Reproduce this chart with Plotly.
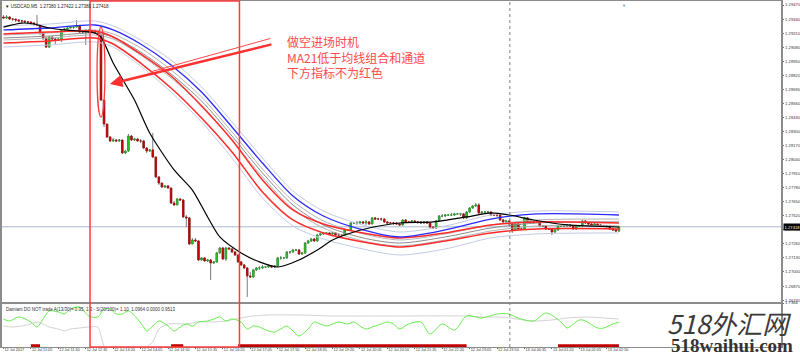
import plotly.graph_objects as go

# ---------------- price data (USDCAD M5) ----------------
closes = [
    1.29350, 1.29359, 1.29340, 1.29340, 1.29331, 1.29322, 1.29322, 1.29313, 1.29313, 1.29303,
    1.29294, 1.29285, 1.29211, 1.29165, 1.29081, 1.29174, 1.29155, 1.29146, 1.29155, 1.29239,
    1.29248, 1.29257, 1.29266, 1.29266, 1.29276, 1.29220, 1.29220, 1.29239, 1.29220, 1.29229,
    1.29211, 1.29192, 1.28591, 1.28369, 1.28249, 1.28212, 1.28221, 1.28212, 1.28221, 1.28101,
    1.28119, 1.28258, 1.28221, 1.28230, 1.28212, 1.28212, 1.28147, 1.28119, 1.28129, 1.28064,
    1.27879, 1.27823, 1.27786, 1.27796, 1.27777, 1.27638, 1.27620, 1.27675, 1.27666, 1.27509,
    1.27500, 1.27259, 1.27296, 1.27287, 1.27111, 1.27130, 1.27102, 1.27111, 1.27083, 1.27093,
    1.27176, 1.27222, 1.27120, 1.27222, 1.27213, 1.27185, 1.27157, 1.27093, 1.27065, 1.27037,
    1.26963, 1.26954, 1.27019, 1.27037, 1.27037, 1.27046, 1.27046, 1.27056, 1.27046, 1.27056,
    1.27130, 1.27130, 1.27130, 1.27185, 1.27185, 1.27204, 1.27204, 1.27167, 1.27176, 1.27268,
    1.27287, 1.27305, 1.27287, 1.27342, 1.27352, 1.27361, 1.27361, 1.27352, 1.27361, 1.27342,
    1.27342, 1.27342, 1.27389, 1.27389, 1.27453, 1.27453, 1.27453, 1.27463, 1.27453, 1.27463,
    1.27444, 1.27500, 1.27490, 1.27490, 1.27490, 1.27463, 1.27453, 1.27453, 1.27453, 1.27444,
    1.27435, 1.27481, 1.27463, 1.27463, 1.27472, 1.27463, 1.27463, 1.27453, 1.27463, 1.27453,
    1.27416, 1.27407, 1.27472, 1.27518, 1.27518, 1.27527, 1.27527, 1.27527, 1.27537, 1.27537,
    1.27537, 1.27500, 1.27555, 1.27592, 1.27611, 1.27620, 1.27546, 1.27555, 1.27555, 1.27555,
    1.27527, 1.27527, 1.27527, 1.27481, 1.27463, 1.27472, 1.27444, 1.27389, 1.27444, 1.27398,
    1.27398, 1.27500, 1.27463, 1.27463, 1.27463, 1.27463, 1.27426, 1.27426, 1.27398, 1.27398,
    1.27370, 1.27389, 1.27426, 1.27426, 1.27426, 1.27435, 1.27426, 1.27398, 1.27426, 1.27426,
    1.27472, 1.27453, 1.27444, 1.27435, 1.27444, 1.27435, 1.27426, 1.27426, 1.27426, 1.27398,
    1.27389, 1.27379, 1.27418]

highs = [
    1.29377, 1.29377, 1.29368, 1.29350, 1.29340, 1.29340, 1.29331, 1.29322, 1.29322, 1.29313,
    1.29313, 1.29377, 1.29285, 1.29211, 1.29165, 1.29183, 1.29174, 1.29165, 1.29165, 1.29248,
    1.29257, 1.29276, 1.29276, 1.29276, 1.29331, 1.29276, 1.29239, 1.29248, 1.29248, 1.29239,
    1.29239, 1.29220, 1.29192, 1.28591, 1.28369, 1.28258, 1.28240, 1.28230, 1.28230, 1.28221,
    1.28129, 1.28277, 1.28267, 1.28240, 1.28240, 1.28230, 1.28221, 1.28156, 1.28138, 1.28286,
    1.28064, 1.27888, 1.27823, 1.27805, 1.27805, 1.27777, 1.27657, 1.27685, 1.27685, 1.27675,
    1.27527, 1.27509, 1.27315, 1.27315, 1.27296, 1.27139, 1.27139, 1.27120, 1.27120, 1.27102,
    1.27185, 1.27231, 1.27231, 1.27231, 1.27231, 1.27222, 1.27194, 1.27167, 1.27102, 1.27074,
    1.27046, 1.27000, 1.27028, 1.27046, 1.27056, 1.27065, 1.27056, 1.27065, 1.27065, 1.27065,
    1.27139, 1.27148, 1.27139, 1.27194, 1.27194, 1.27213, 1.27213, 1.27213, 1.27185, 1.27278,
    1.27296, 1.27315, 1.27315, 1.27352, 1.27361, 1.27370, 1.27370, 1.27370, 1.27370, 1.27370,
    1.27361, 1.27352, 1.27398, 1.27398, 1.27463, 1.27463, 1.27472, 1.27472, 1.27472, 1.27481,
    1.27472, 1.27509, 1.27509, 1.27500, 1.27500, 1.27500, 1.27472, 1.27463, 1.27463, 1.27463,
    1.27453, 1.27490, 1.27490, 1.27472, 1.27481, 1.27481, 1.27472, 1.27472, 1.27472, 1.27472,
    1.27463, 1.27426, 1.27481, 1.27527, 1.27537, 1.27537, 1.27537, 1.27546, 1.27546, 1.27546,
    1.27546, 1.27546, 1.27564, 1.27601, 1.27620, 1.27638, 1.27638, 1.27564, 1.27564, 1.27564,
    1.27564, 1.27537, 1.27537, 1.27537, 1.27490, 1.27481, 1.27481, 1.27453, 1.27453, 1.27453,
    1.27407, 1.27509, 1.27509, 1.27472, 1.27472, 1.27472, 1.27472, 1.27435, 1.27435, 1.27407,
    1.27407, 1.27398, 1.27435, 1.27435, 1.27435, 1.27444, 1.27444, 1.27435, 1.27435, 1.27435,
    1.27481, 1.27481, 1.27453, 1.27453, 1.27453, 1.27444, 1.27444, 1.27435, 1.27435, 1.27435,
    1.27407, 1.27398, 1.27426]

lows = [
    1.29340, 1.29340, 1.29331, 1.29322, 1.29313, 1.29313, 1.29303, 1.29303, 1.29294, 1.29285,
    1.29276, 1.29276, 1.29192, 1.29146, 1.29072, 1.29072, 1.29137, 1.29109, 1.29137, 1.29128,
    1.29229, 1.29229, 1.29257, 1.29248, 1.29266, 1.29211, 1.29202, 1.29100, 1.29211, 1.29211,
    1.29202, 1.29183, 1.28582, 1.28341, 1.28240, 1.28203, 1.28203, 1.28203, 1.28203, 1.28092,
    1.28092, 1.28110, 1.28212, 1.28212, 1.28203, 1.28193, 1.28138, 1.28101, 1.28110, 1.28055,
    1.27870, 1.27805, 1.27777, 1.27777, 1.27768, 1.27629, 1.27611, 1.27620, 1.27657, 1.27500,
    1.27416, 1.27250, 1.27259, 1.27278, 1.27102, 1.27102, 1.27093, 1.27093, 1.26926, 1.27074,
    1.27083, 1.27167, 1.27111, 1.27102, 1.27204, 1.27176, 1.27148, 1.27083, 1.27056, 1.27028,
    1.26769, 1.26945, 1.26945, 1.27009, 1.27019, 1.27028, 1.27037, 1.27037, 1.27037, 1.27037,
    1.27046, 1.27111, 1.27120, 1.27120, 1.27167, 1.27176, 1.27194, 1.27157, 1.27157, 1.27167,
    1.27259, 1.27278, 1.27278, 1.27278, 1.27333, 1.27342, 1.27352, 1.27342, 1.27342, 1.27333,
    1.27333, 1.27333, 1.27333, 1.27379, 1.27379, 1.27444, 1.27435, 1.27444, 1.27444, 1.27435,
    1.27435, 1.27444, 1.27481, 1.27481, 1.27472, 1.27453, 1.27444, 1.27444, 1.27435, 1.27435,
    1.27426, 1.27426, 1.27453, 1.27453, 1.27453, 1.27453, 1.27444, 1.27444, 1.27444, 1.27444,
    1.27407, 1.27398, 1.27398, 1.27463, 1.27509, 1.27509, 1.27518, 1.27518, 1.27518, 1.27527,
    1.27518, 1.27490, 1.27490, 1.27546, 1.27583, 1.27601, 1.27537, 1.27537, 1.27546, 1.27537,
    1.27518, 1.27518, 1.27509, 1.27472, 1.27453, 1.27453, 1.27435, 1.27361, 1.27379, 1.27389,
    1.27389, 1.27389, 1.27453, 1.27453, 1.27444, 1.27453, 1.27416, 1.27416, 1.27389, 1.27389,
    1.27342, 1.27361, 1.27379, 1.27416, 1.27416, 1.27416, 1.27416, 1.27389, 1.27389, 1.27416,
    1.27416, 1.27444, 1.27435, 1.27426, 1.27426, 1.27426, 1.27416, 1.27416, 1.27407, 1.27389,
    1.27379, 1.27370, 1.27370]

first_open = 1.29359
opens = [first_open] + closes[:-1]
bars = list(range(len(closes)))
current_price = 1.27418

# ---------------- moving-average band (read at sample bars) ----------------
ma_idx = [0, 15, 30, 36, 45, 55, 65, 75, 85, 95, 105, 118, 130, 145, 160, 175, 202]
band_lav_top = [1.29276, 1.29294, 1.29322, 1.29276, 1.29146, 1.28961, 1.28711, 1.28388, 1.28055,
                1.27749, 1.27564, 1.27435, 1.27370, 1.27426, 1.27527, 1.27564, 1.27555]
band_blue = [1.29239, 1.29257, 1.29285, 1.29239, 1.29109, 1.28915, 1.28665, 1.28341, 1.28008,
             1.27703, 1.27518, 1.27389, 1.27324, 1.27389, 1.27490, 1.27537, 1.27527]
band_gray1 = [1.29192, 1.29211, 1.29239, 1.29202, 1.29072, 1.28869, 1.28619, 1.28295, 1.27953,
              1.27657, 1.27472, 1.27352, 1.27296, 1.27352, 1.27435, 1.27481, 1.27490]
band_gray2 = [1.29165, 1.29183, 1.29211, 1.29174, 1.29035, 1.28832, 1.28582, 1.28258, 1.27916,
              1.27620, 1.27435, 1.27315, 1.27268, 1.27324, 1.27407, 1.27453, 1.27463]
band_gray3 = [1.29146, 1.29165, 1.29192, 1.29155, 1.29007, 1.28795, 1.28545, 1.28221, 1.27879,
              1.27583, 1.27407, 1.27287, 1.27241, 1.27296, 1.27379, 1.27426, 1.27426]
band_red1 = [1.29202, 1.29220, 1.29229, 1.29174, 1.29017, 1.28813, 1.28536, 1.28221, 1.27851,
             1.27574, 1.27444, 1.27361, 1.27315, 1.27361, 1.27435, 1.27463, 1.27453]
band_red2 = [1.29118, 1.29137, 1.29165, 1.29109, 1.28933, 1.28702, 1.28425, 1.28110, 1.27740,
             1.27481, 1.27361, 1.27278, 1.27231, 1.27287, 1.27361, 1.27398, 1.27398]
band_lav_bot = [1.29081, 1.29100, 1.29128, 1.29081, 1.28906, 1.28665, 1.28388, 1.28055, 1.27685,
                1.27426, 1.27305, 1.27213, 1.27157, 1.27213, 1.27315, 1.27352, 1.27361]

ma21_idx = [0, 6, 10, 15, 20, 30, 32, 36, 43, 48, 56, 62, 67, 71, 78, 84, 90, 97, 103, 108,
            114, 120, 130, 141, 152, 160, 166, 174, 185, 202]
ma21 = [1.29266, 1.29303, 1.29294, 1.29257, 1.29239, 1.29211, 1.29174, 1.28933, 1.28591, 1.28286,
        1.27944, 1.27758, 1.27509, 1.27324, 1.27176, 1.27093, 1.27046, 1.27111, 1.27204, 1.27296,
        1.27361, 1.27407, 1.27453, 1.27463, 1.27509, 1.27546, 1.27527, 1.27481, 1.27435, 1.27416]

# ---------------- Damiani indicator (lower panel) ----------------
osc_idx = [0, 2, 5, 9, 11, 13, 15, 18, 20, 22, 25, 28, 31, 33, 35, 37, 39, 41, 44, 46,
           47, 49, 51, 54, 56, 58, 60, 62, 64, 67, 69, 71, 73, 75, 78, 80, 82, 84, 87, 89,
           91, 93, 95, 97, 100, 102, 104, 106, 108, 110, 113, 115, 117, 119, 121, 124, 126, 128, 130, 133,
           137, 140, 144, 148, 152, 157, 162, 166, 168, 174, 178, 183, 185, 189, 191, 195, 197, 200, 202]
osc_green = [1.105, 1.026, 1.184, 0.987, 0.789, 1.105, 1.421, 1.381, 1.303, 1.500,
             1.579, 1.224, 1.184, 1.500, 1.500, 1.303, 1.303, 1.421, 1.105, 0.789,
             0.632, 0.829, 1.026, 0.829, 0.632, 0.789, 0.908, 0.829, 0.987, 1.026,
             1.105, 1.184, 1.026, 1.105, 0.987, 0.710, 0.829, 0.789, 0.632, 0.592,
             0.710, 0.829, 0.632, 0.434, 0.710, 0.987, 0.908, 0.829, 0.908, 0.987,
             0.908, 0.987, 0.829, 0.710, 0.789, 0.908, 0.987, 0.908, 0.710, 0.908,
             0.987, 0.513, 0.908, 0.671, 1.224, 1.145, 1.303, 1.303, 1.184, 1.026,
             1.342, 0.987, 0.750, 1.066, 1.026, 0.750, 0.750, 0.908, 0.987]
sig_idx = [0, 3, 6, 9, 11, 13, 15, 18, 20, 22, 25, 28, 31, 32, 33, 36, 41, 45, 47, 49,
           51, 54, 60, 64, 69, 73, 78, 82, 87, 97, 108, 130, 152, 157, 163, 166, 174, 180, 185, 191, 202]
sig_gray = [0.829, 0.789, 0.829, 0.908, 0.987, 0.908, 0.789, 0.710, 0.632, 0.710,
            0.750, 0.789, 0.789, 0.434, 0.039, -0.5, -0.7, -0.5, 0.0, 0.197,
            0.710, 0.908, 0.908, 0.987, 0.987, 1.026, 1.145, 1.224, 1.263, 1.263,
            1.224, 1.224, 1.224, 1.184, 1.184, 1.145, 1.026, 1.066, 1.145, 1.184, 1.105]
no_trade_ranges = [(9, 12), (55, 59), (77, 152), (182, 202)]
no_trade_level = 0.05
osc_max = 1.7366

tick_idx = list(range(0, 199, 9))
tick_text = ["12 Jul 2017", "12 Jul 11:05", "12 Jul 11:50", "12 Jul 12:35", "12 Jul 13:20",
             "12 Jul 14:05", "12 Jul 14:50", "12 Jul 15:35", "12 Jul 16:20", "12 Jul 17:05",
             "12 Jul 17:50", "12 Jul 18:35", "12 Jul 19:20", "12 Jul 20:05", "12 Jul 20:50",
             "12 Jul 21:35", "12 Jul 22:20", "12 Jul 23:05", "12 Jul 23:50", "13 Jul 00:35",
             "13 Jul 01:20", "13 Jul 02:05", "13 Jul 02:50"]

# ---------------- figure ----------------
fig = go.Figure()

# wicks (gray)
fig.add_trace(go.Candlestick(
    x=bars, open=opens, high=highs, low=lows, close=closes,
    increasing=dict(line=dict(color="#7a7a7a", width=1), fillcolor="#7a7a7a"),
    decreasing=dict(line=dict(color="#7a7a7a", width=1), fillcolor="#7a7a7a"),
    whiskerwidth=0, showlegend=False, hoverinfo="skip", xaxis="x", yaxis="y"))
# coloured bodies
body_hi = [max(o, c) for o, c in zip(opens, closes)]
body_lo = [min(o, c) for o, c in zip(opens, closes)]
fig.add_trace(go.Candlestick(
    x=bars, open=opens, high=body_hi, low=body_lo, close=closes,
    increasing=dict(line=dict(color="#1f9e1f", width=0.6), fillcolor="#2ccc2c"),
    decreasing=dict(line=dict(color="#b00000", width=0.6), fillcolor="#c80000"),
    whiskerwidth=0, showlegend=False, hoverinfo="skip", xaxis="x", yaxis="y"))

def band(vals, color, width):
    fig.add_trace(go.Scatter(x=ma_idx, y=vals, mode="lines",
                             line=dict(color=color, width=width, shape="spline", smoothing=0.8),
                             showlegend=False, hoverinfo="skip", xaxis="x", yaxis="y"))

band(band_lav_bot, "#c3cbe3", 1)
band(band_lav_top, "#c3cbe3", 1)
band(band_gray3, "#b4b4b4", 1)
band(band_gray2, "#8c8c8c", 1)
band(band_gray1, "#b4b4b4", 1)
band(band_red2, "#ff2a2a", 1.5)
band(band_red1, "#ff2a2a", 1.5)
band(band_blue, "#2a2aff", 1.3)

fig.add_trace(go.Scatter(x=ma21_idx, y=ma21, mode="lines",
                         line=dict(color="#000000", width=1.2, shape="spline", smoothing=0.7),
                         showlegend=False, hoverinfo="skip", xaxis="x", yaxis="y"))

# lower panel
fig.add_trace(go.Scatter(x=sig_idx, y=sig_gray, mode="lines",
                         line=dict(color="#d2d2d2", width=1, shape="spline", smoothing=0.6),
                         showlegend=False, hoverinfo="skip", xaxis="x2", yaxis="y2"))
fig.add_trace(go.Scatter(x=osc_idx, y=osc_green, mode="lines",
                         line=dict(color="#66ee4c", width=1, shape="spline", smoothing=0.9),
                         showlegend=False, hoverinfo="skip", xaxis="x2", yaxis="y2"))
nt_x, nt_y = [], []
for a, b in no_trade_ranges:
    nt_x += [a, b, None]
    nt_y += [no_trade_level, no_trade_level, None]
fig.add_trace(go.Scatter(x=nt_x, y=nt_y, mode="lines", line=dict(color="#c00000", width=3),
                         showlegend=False, hoverinfo="skip", xaxis="x2", yaxis="y2"))

# plot area: x 2..781, y 1..347 (346 px tall); panel split at y=303
PB = 347.0
PH = 346.0
split = (PB - 303) / PH
axis_line = "#8c8c8c"
tick_font = dict(size=4.2, color="#333333", family="Liberation Sans")
fig.update_layout(
    width=800, height=357,
    margin=dict(l=2, r=19, t=1, b=10, autoexpand=False),
    paper_bgcolor="white", plot_bgcolor="white",
    showlegend=False,
    xaxis=dict(domain=[0, 1], anchor="y", range=[-0.49, 255.2], showticklabels=False,
               rangeslider=dict(visible=False), showgrid=False, zeroline=False, ticks="",
               showline=True, mirror=True, linecolor=axis_line, linewidth=1, automargin=False),
    yaxis=dict(domain=[split, 1], anchor="x", side="right", range=[1.26713, 1.29507],
               tick0=1.26740, dtick=0.0013, tickformat=".5f", tickfont=tick_font,
               ticks="outside", ticklen=1.5, tickcolor="#666666", automargin=False,
               showgrid=False, zeroline=False, showline=True, mirror=True,
               linecolor=axis_line, linewidth=1.5),
    xaxis2=dict(domain=[0, 1], anchor="y2", matches="x", tickvals=tick_idx, ticktext=tick_text,
                tickfont=dict(size=3.8, color="#333333", family="Liberation Sans"),
                ticks="outside", ticklen=1, tickcolor="#666666", tickangle=0,
                ticklabelposition="outside right", ticklabelstandoff=-2, automargin=False,
                showgrid=False, zeroline=False, showline=True, mirror=True,
                linecolor=axis_line, linewidth=1),
    yaxis2=dict(domain=[0, split], anchor="x2", side="right", range=[0, osc_max],
                tickvals=[osc_max], ticktext=["1.7366"], tickfont=tick_font,
                ticks="outside", ticklen=1.5, tickcolor="#666666", automargin=False,
                showgrid=False, zeroline=False, showline=True, mirror=True,
                linecolor=axis_line, linewidth=1.5),
)

# bid line + price box
fig.add_shape(type="line", xref="paper", x0=0, x1=1, yref="y", y0=current_price, y1=current_price,
              line=dict(color="#a9b8c8", width=1), layer="below")
fig.add_annotation(xref="paper", x=1.002, yref="y", y=current_price, text="1.27418",
                   showarrow=False, xanchor="left", yanchor="middle", bgcolor="#000000",
                   font=dict(size=4.2, color="#ffffff", family="Liberation Sans"), borderpad=0.5)

# vertical dotted separator
fig.add_shape(type="line", xref="x", x0=166.2, x1=166.2, yref="paper", y0=0, y1=1,
              line=dict(color="#808080", width=1, dash="dot"))

# red highlight rectangle and ellipse
fig.add_shape(type="rect", xref="x", x0=28.4, x1=77.45, yref="paper", y0=0, y1=1,
              line=dict(color="#ff3b3b", width=1.5), fillcolor="rgba(0,0,0,0)")
fig.add_shape(type="circle", xref="x", x0=30.7, x1=33.3, yref="y", y0=1.28434, y1=1.29266,
              line=dict(color="#ff3b3b", width=1.3))

# arrows
fig.add_annotation(xref="x", yref="y", x=48.1, y=1.28850, ax=122, ay=-34, text="",
                   showarrow=True, arrowhead=0, arrowwidth=1, arrowcolor="#ff4a4a")
fig.add_annotation(xref="x", yref="y", x=34.95, y=1.28739, ax=163, ay=-40, text="",
                   showarrow=True, arrowhead=2, arrowsize=1, arrowwidth=2.5, arrowcolor="#ff3030")

# annotation text
fig.add_annotation(xref="paper", yref="paper", x=(285 - 2) / 779, y=(PB - 31) / PH,
                   xanchor="left", yanchor="top", align="left", showarrow=False,
                   text="做空进场时机<br>MA21低于均线组合和通道<br>下方指标不为红色",
                   font=dict(size=12, color="#ff4a4a", family="Noto Sans CJK SC"))

# chart header and indicator caption
fig.add_annotation(xref="paper", yref="paper", x=0.001, y=0.998, xanchor="left", yanchor="top",
                   showarrow=False, text="▼ USDCAD,M5  1.27380 1.27422 1.27380 1.27418",
                   font=dict(size=4.5, color="#222222", family="Liberation Sans"))
fig.add_annotation(xref="paper", yref="paper", x=0.002, y=(PB - 304.5) / PH, xanchor="left",
                   yanchor="top", showarrow=False,
                   text="Damiani DO NOT trade A(13/30)= 0.95, 1.3 - S(20/100)= 1.10  1.0964 0.0000 0.9513",
                   font=dict(size=4.5, color="#333333", family="Liberation Sans"))
fig.add_annotation(xref="x", yref="paper", x=203.6, y=1.0, xanchor="center", yanchor="top",
                   showarrow=False, text="▼", font=dict(size=4, color="#7a8a9a"))

# watermark
fig.add_annotation(xref="paper", yref="paper", x=(729 - 2) / 779, y=(PB - 322) / PH,
                   xanchor="center", yanchor="middle", showarrow=False, text="<i>518外汇网</i>",
                   font=dict(size=26, color="#3a3a3a", family="Noto Sans CJK SC"))
fig.add_annotation(xref="paper", yref="paper", x=(732 - 2) / 779, y=(PB - 345) / PH,
                   xanchor="center", yanchor="middle", showarrow=False, text="<b>518waihui.com</b>",
                   font=dict(size=19, color="#333333", family="Liberation Serif"))

fig.write_html("out.html", config={"displayModeBar": False},
               post_script="document.body.style.margin='0px';document.body.style.overflow='hidden';")
